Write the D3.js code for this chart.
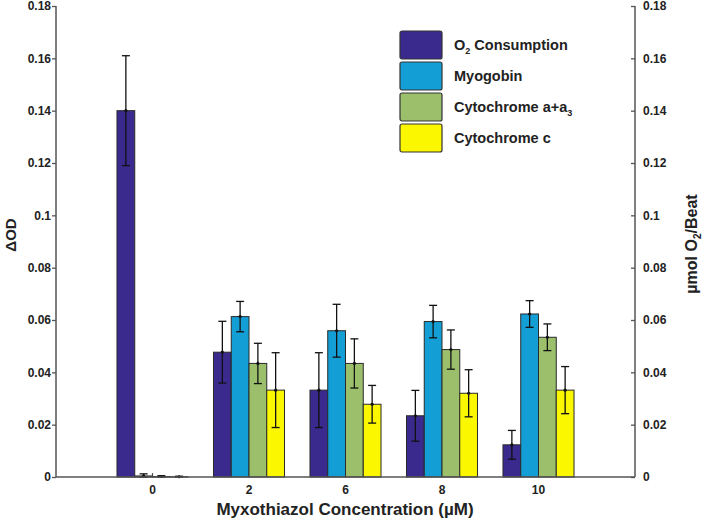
<!DOCTYPE html>
<html>
<head>
<meta charset="utf-8">
<script src="https://cdn.jsdelivr.net/npm/d3@7"></script>
<style>
  body { margin: 0; background: #fff; }
  text { font-family: "Liberation Sans", Arial, sans-serif; font-weight: bold; fill: #222; }
</style>
</head>
<body>
<div id="chart"></div>
<script>
// 데이터
const concentrations = ["0", "2", "6", "8", "10"];
const seriesKeys = ["o2", "myo", "cyta", "cytc"];
const o2Values   = [0.140, 0.0477, 0.0332, 0.0234, 0.0123];
const o2Errors   = [0.021, 0.0118, 0.0143, 0.0097, 0.0055];
const myoValues  = [0.0004, 0.0613, 0.0559, 0.0594, 0.0623];
const myoErrors  = [0.0008, 0.0058, 0.0101, 0.0062, 0.0051];
const cytaValues = [0.0002, 0.0434, 0.0434, 0.0487, 0.0534];
const cytaErrors = [0.0003, 0.0077, 0.0094, 0.0075, 0.0051];
const cytcValues = [0.0001, 0.0332, 0.0278, 0.0320, 0.0332];
const cytcErrors = [0.0002, 0.0143, 0.0072, 0.0090, 0.0090];
const yTicks = [0, 0.02, 0.04, 0.06, 0.08, 0.1, 0.12, 0.14, 0.16, 0.18];

const colors = { o2: "#3a2a8e", myo: "#139fd6", cyta: "#9bbf6a", cytc: "#fbf700" };
const values = { o2: o2Values, myo: myoValues, cyta: cytaValues, cytc: cytcValues };
const errors = { o2: o2Errors, myo: myoErrors, cyta: cytaErrors, cytc: cytcErrors };

const width = 707, height = 523;
const plotLeft = 56, plotRight = 635, plotTop = 6, plotBottom = 477;

const svg = d3.select("#chart").append("svg")
    .attr("width", width).attr("height", height);

const x = d3.scalePoint().domain(concentrations).range([plotLeft, plotRight]).padding(1);
const step = x.step();
const x1 = d3.scaleBand().domain(seriesKeys).range([-step * 0.368, step * 0.368]);
const y = d3.scaleLinear().domain([0, 0.18]).range([plotBottom, plotTop]);

// x 눈금 (안쪽으로)
svg.append("g").selectAll("line").data(concentrations).enter().append("line")
    .attr("x1", d => x(d)).attr("x2", d => x(d))
    .attr("y1", plotBottom).attr("y2", plotBottom - 4)
    .attr("stroke", "#555").attr("stroke-width", 1.2);

// 막대
const bars = [];
concentrations.forEach((c, i) => {
    seriesKeys.forEach(k => bars.push({ c, k, v: values[k][i], e: errors[k][i] }));
});

svg.append("g").selectAll("rect").data(bars).enter().append("rect")
    .attr("x", d => x(d.c) + x1(d.k))
    .attr("y", d => y(d.v))
    .attr("width", x1.bandwidth())
    .attr("height", d => plotBottom - y(d.v))
    .attr("fill", d => colors[d.k])
    .attr("stroke", "#2a2a2a").attr("stroke-width", 1);

// 오차 막대
const eb = svg.append("g").attr("stroke", "#111").attr("stroke-width", 1.3);
bars.forEach(d => {
    const cx = x(d.c) + x1(d.k) + x1.bandwidth() / 2;
    const hi = y(d.v + d.e), lo = y(Math.max(0, d.v - d.e));
    eb.append("line").attr("x1", cx).attr("x2", cx).attr("y1", hi).attr("y2", lo);
    eb.append("line").attr("x1", cx - 4).attr("x2", cx + 4).attr("y1", hi).attr("y2", hi);
    eb.append("line").attr("x1", cx - 4).attr("x2", cx + 4).attr("y1", lo).attr("y2", lo);
    eb.append("circle").attr("cx", cx).attr("cy", y(d.v)).attr("r", 1.6).attr("fill", "#111").attr("stroke", "none");
});

// 축
const axisColor = "#555";
const fmt = d3.format("~g");
const leftAxis = svg.append("g").attr("transform", `translate(${plotLeft},0)`)
    .call(d3.axisLeft(y).tickValues(yTicks).tickSize(4).tickFormat(fmt));
const rightAxis = svg.append("g").attr("transform", `translate(${plotRight},0)`)
    .call(d3.axisLeft(y).tickValues(yTicks).tickSize(4).tickFormat(""));
rightAxis.selectAll(".tick").append("text")
    .attr("dy", "0.32em").attr("text-anchor", "start")
    .text(d => fmt(d));
[leftAxis, rightAxis].forEach(a => {
    a.select(".domain").attr("stroke", axisColor).attr("stroke-width", 1.5)
        .attr("d", `M0,${plotTop}V${plotBottom}`);
    a.selectAll(".tick line").attr("stroke", axisColor).attr("stroke-width", 1.3);
    a.selectAll(".tick text").style("font-size", "12px").style("font-family", "Liberation Sans, Arial, sans-serif")
        .style("font-weight", "bold").attr("fill", "#222");
});
leftAxis.selectAll(".tick text").attr("x", -5);
rightAxis.selectAll(".tick text").attr("x", 8);

svg.append("line").attr("x1", plotLeft).attr("x2", plotRight).attr("y1", plotBottom).attr("y2", plotBottom)
    .attr("stroke", axisColor).attr("stroke-width", 1.5);

// x 눈금 라벨
svg.append("g").selectAll("text").data(concentrations).enter().append("text")
    .attr("x", d => x(d)).attr("y", 494).attr("text-anchor", "middle")
    .style("font-size", "12px").text(d => d);

// 축 제목
svg.append("text").attr("x", 345).attr("y", 515).attr("text-anchor", "middle")
    .style("font-size", "17px").text("Myxothiazol Concentration (\u00b5M)");

svg.append("text").attr("transform", "translate(16,235) rotate(-90)")
    .attr("text-anchor", "middle").style("font-size", "15px").text("\u0394OD");

const rt = svg.append("text").attr("transform", "translate(697,244) rotate(-90)")
    .attr("text-anchor", "middle").style("font-size", "16px");
rt.append("tspan").text("\u00b5mol O");
rt.append("tspan").attr("dy", 4).style("font-size", "10px").text("2");
rt.append("tspan").attr("dy", -4).text("/Beat");

// 범례
const legendItems = [
    { k: "o2", parts: [["O", 0], ["2", 1], [" Consumption", 0]] },
    { k: "myo", parts: [["Myogobin", 0]] },
    { k: "cyta", parts: [["Cytochrome a+a", 0], ["3", 1]] },
    { k: "cytc", parts: [["Cytochrome c", 0]] }
];
const legend = svg.append("g").attr("transform", "translate(400,31)");
legendItems.forEach((item, i) => {
    const gy = i * 31;
    legend.append("rect").attr("x", 0).attr("y", gy).attr("width", 42).attr("height", 28)
        .attr("rx", 2).attr("fill", colors[item.k]).attr("stroke", "#333").attr("stroke-width", 1.2);
    const t = legend.append("text").attr("x", 54).attr("y", gy + 19).style("font-size", "14.5px");
    let sub = 0;
    item.parts.forEach(([s, isSub]) => {
        const dy = isSub ? 4 - sub : (sub ? -4 : 0);
        sub = isSub ? 4 : 0;
        t.append("tspan").attr("dy", dy).style("font-size", isSub ? "9px" : "14.5px").text(s);
    });
});
</script>
</body>
</html>
